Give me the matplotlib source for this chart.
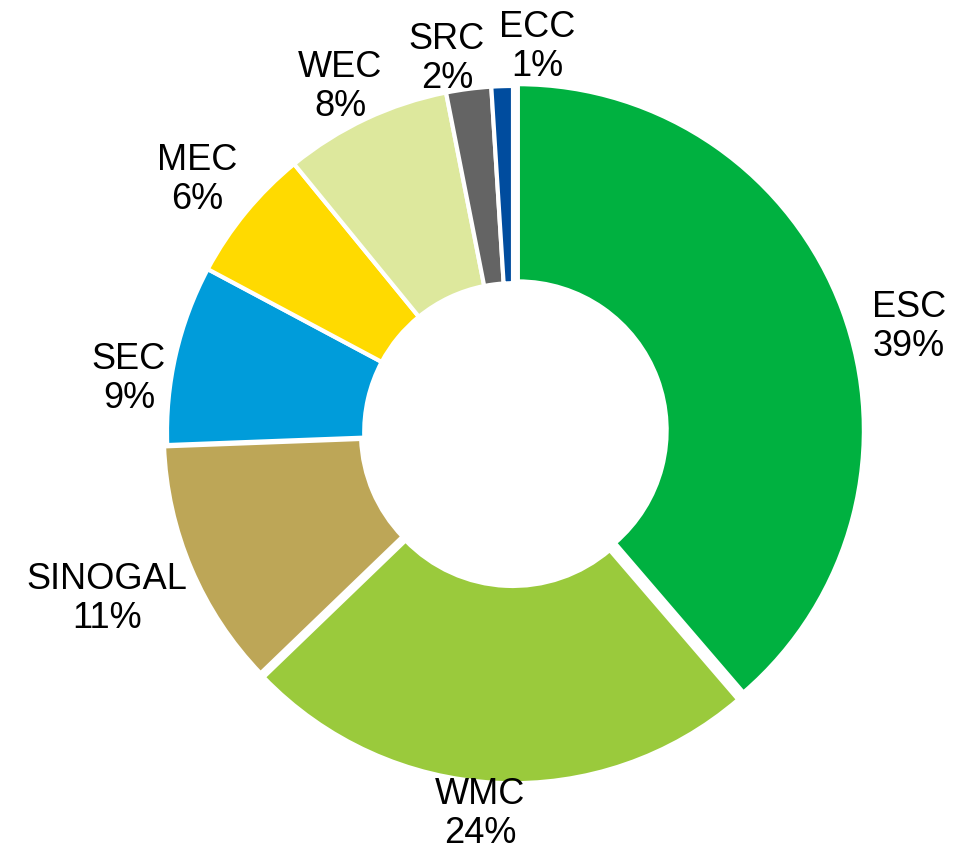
import numpy as np
import matplotlib.pyplot as plt

plt.rcParams['font.family'] = ['Liberation Sans', 'DejaVu Sans']

names = ['ESC', 'WMC', 'SINOGAL', 'SEC', 'MEC', 'WEC', 'SRC', 'ECC']
shares = [38.7, 24.1, 11.6, 8.4, 6.3, 7.8, 2.1, 1.0]
pct_labels = ['39%', '24%', '11%', '9%', '6%', '8%', '2%', '1%']
colors = ['#00B140', '#9ACA3C', '#BDA657', '#009CDA', '#FFDA00',
          '#DDE89D', '#646464', '#004C9E']

# label centres in pixels (from top-left), converted below
label_px = [(909, 327), (480, 814), (107, 599), (129, 379),
            (197, 180), (340, 87), (447, 59), (537, 47)]
explode = [0.015, 0.015, 0.01, 0, 0, 0, 0, 0]

W, H = 966, 854
cx, cy, R = 513, 433, 346

fig = plt.figure(figsize=(W / 100, H / 100), dpi=100)
ax = fig.add_axes([0, 0, 1, 1])

ax.pie(shares, colors=colors, startangle=90, counterclock=False,
       explode=explode, radius=1,
       wedgeprops=dict(width=0.57, edgecolor='white', linewidth=3))

for name, pct, (px, py) in zip(names, pct_labels, label_px):
    ax.text((px - cx) / R, (cy - py) / R, name + '\n' + pct,
            ha='center', va='center', fontsize=26, linespacing=1.15)

ax.set_xlim(-cx / R, (W - cx) / R)
ax.set_ylim(-(H - cy) / R, cy / R)
ax.set_aspect('equal')
ax.axis('off')

fig.savefig('out.png', dpi=100, facecolor='white')
